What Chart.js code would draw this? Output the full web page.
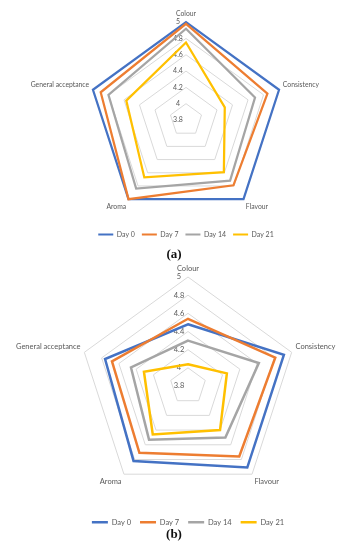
<!DOCTYPE html>
<html>
<head>
<meta charset="utf-8">
<script src="https://cdn.jsdelivr.net/npm/chart.js@4.4.1/dist/chart.umd.min.js"></script>
<style>
  body { margin: 0; background: #fff; width: 344px; height: 550px; overflow: hidden; position: relative; }
  .box { position: absolute; left: 0; }
  #wrapA { top: 0; width: 372px; height: 248px; }
  #wrapB { top: 258px; width: 376px; height: 278px; }
  .tag { position: absolute; width: 40px; text-align: center; font-family: "Liberation Serif", serif; font-weight: bold; font-size: 13px; color: #111; }
</style>
</head>
<body>
<div class="box" id="wrapA"><canvas id="chartA"></canvas></div>
<div class="box" id="wrapB"><canvas id="chartB"></canvas></div>
<div class="tag" style="left:154px; top:246px;">(a)</div>
<div class="tag" style="left:154px; top:526px;">(b)</div>
<script>
// shared axis info
const categories = ['Colour', 'Consistency', 'Flavour', 'Aroma', 'General acceptance'];
const seriesNames = ['Day 0', 'Day 7', 'Day 14', 'Day 21'];
const seriesColors = ['#4472C4', '#ED7D31', '#A5A5A5', '#FFC000'];
const tickLabels = [3.8, 4, 4.2, 4.4, 4.6, 4.8, 5];

// chart (a)
const day0A = [5, 5, 5, 5, 5];
const day7A = [4.98, 4.85, 4.79, 5, 4.9];
const day14A = [4.92, 4.69, 4.72, 4.84, 4.8];
const day21A = [4.75, 4.3, 4.59, 4.67, 4.57];

// chart (b)
const day0B = [4.48, 4.91, 4.91, 4.82, 4.76];
const day7B = [4.54, 4.81, 4.76, 4.71, 4.68];
const day14B = [4.3, 4.62, 4.5, 4.53, 4.46];
const day21B = [4.04, 4.25, 4.4, 4.46, 4.31];

const GREY_TEXT = '#595959';

// tick numbers drawn by hand so the 3.8 at the centre shows too
const tickText = {
    id: 'tickText',
    beforeDatasetsDraw(chart, args, opts) {
        const s = chart.scales.r;
        const ctx = chart.ctx;
        ctx.save();
        ctx.font = opts.size + 'px Lato';
        ctx.fillStyle = GREY_TEXT;
        ctx.textAlign = 'center';
        ctx.textBaseline = 'middle';
        tickLabels.forEach(v => {
            const d = s.getDistanceFromCenterForValue(v);
            ctx.fillText(String(v), s.xCenter - opts.dx, s.yCenter - d);
        });
        ctx.restore();
    }
};

// legend swatches as flat lines, no outline
const flatLegend = chart =>
    Chart.defaults.plugins.legend.labels.generateLabels(chart).map(l => ({ ...l, lineWidth: 0 }));

function makeRadar(id, series, f) {
    return new Chart(document.getElementById(id), {
        type: 'radar',
        data: {
            labels: categories,
            datasets: series.map((vals, i) => ({
                label: seriesNames[i],
                data: vals,
                borderColor: seriesColors[i],
                backgroundColor: seriesColors[i],
                borderWidth: f.line,
                fill: false,
                pointRadius: 0,
                pointHoverRadius: 0,
                borderJoinStyle: 'miter',
                order: series.length - i
            }))
        },
        options: {
            responsive: true,
            maintainAspectRatio: false,
            animation: false,
            layout: { padding: { top: f.top } },
            plugins: {
                legend: {
                    position: 'bottom',
                    title: { display: f.push > 0, text: '', font: { size: 1 }, padding: { top: f.push, bottom: 0 } },
                    labels: {
                        boxWidth: f.box, boxHeight: f.swatch, padding: f.gap,
                        color: GREY_TEXT, font: { family: 'Lato', size: f.legend },
                        generateLabels: flatLegend,
                        sort: (a, b) => a.datasetIndex - b.datasetIndex
                    }
                },
                tooltip: { enabled: false },
                tickText: { size: f.tick, dx: f.dx }
            },
            scales: {
                r: {
                    min: 3.8, max: 5,
                    ticks: { stepSize: 0.2, display: false },
                    grid: { color: '#D9D9D9', lineWidth: 1 },
                    angleLines: { display: false },
                    pointLabels: { color: GREY_TEXT, padding: 4, font: { family: 'Lato', size: f.label } }
                }
            }
        },
        plugins: [tickText]
    });
}

// canvases are wider than the page so the plot sits right of centre, as in the original
makeRadar('chartA', [day0A, day7A, day14A, day21A],
    { box: 15, swatch: 2, gap: 7, legend: 7, tick: 7, label: 6.8, dx: 8, line: 2.25, top: 4, push: 0 });
makeRadar('chartB', [day0B, day7B, day14B, day21B],
    { box: 16, swatch: 2.5, gap: 9, legend: 7.5, tick: 7.5, label: 7.5, dx: 9, line: 2.5, top: 0, push: 5 });
</script>
</body>
</html>
